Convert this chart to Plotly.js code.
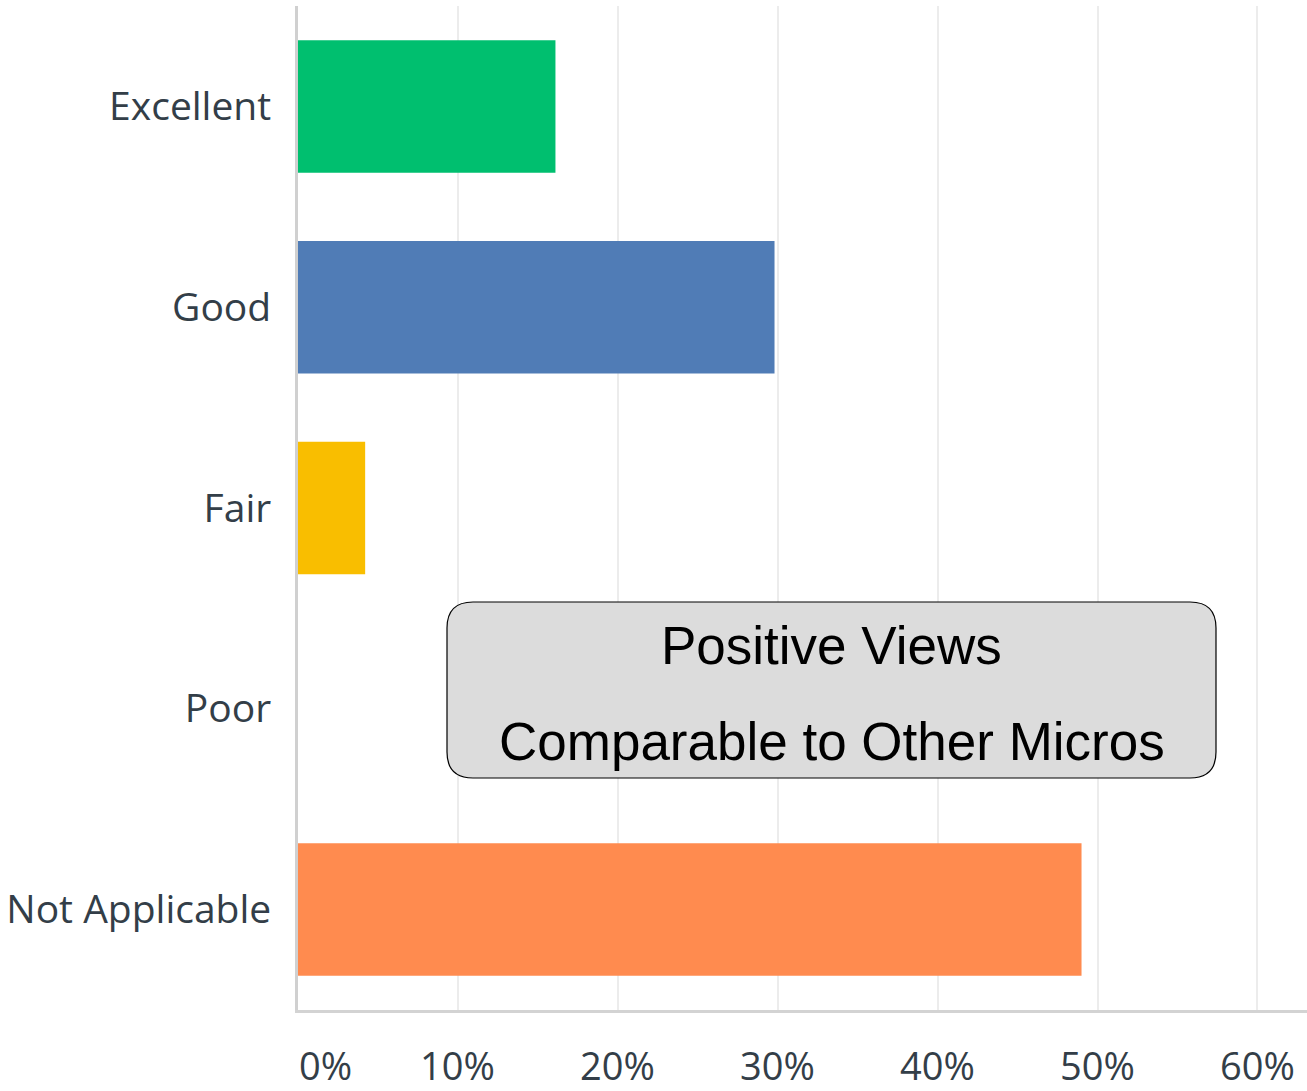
<!DOCTYPE html>
<html>
<head>
<meta charset="utf-8">
<script src="https://cdn.plot.ly/plotly-3.0.1.min.js"></script>
<style>html,body{margin:0;padding:0;background:#fff;}#chart{width:1307px;height:1091px;}</style>
</head>
<body>
<div id="chart"></div>
<script>
const categories = ['Excellent', 'Good', 'Fair', 'Poor', 'Not Applicable'];
const percentValues = [16.1, 29.8, 4.2, 0, 49.0];
const barColors = ['#00bf6f', '#507cb6', '#f9be00', '#d25f90', '#ff8b4f'];
const tickValues = [0, 10, 20, 30, 40, 50, 60];
const tickLabels = ['0%', '10%', '20%', '30%', '40%', '50%', '60%'];
const calloutLines = ['Positive Views', 'Comparable to Other Micros'];

const W = 1307, H = 1091;
const mL = 298, mR = 0, mT = 6, mB = 81;
const pw = W - mL - mR, ph = H - mT - mB;
const px = v => (v - mL) / pw;          // pixel x -> paper
const py = v => (H - mB - v) / ph;      // pixel y -> paper

const labelFont = {family: 'Open Sans, Noto Sans, sans-serif', size: 39, color: '#333e48'};
const xLabelFont = {family: 'Open Sans, Noto Sans, sans-serif', size: 38, color: '#333e48'};

const trace = {
  type: 'bar',
  orientation: 'h',
  y: categories,
  x: percentValues,
  marker: {color: barColors, line: {width: 0}},
  width: 0.66,
  hoverinfo: 'skip'
};

// callout box (rounded rectangle)
const bx0 = 447, bx1 = 1216, by0 = 602, by1 = 778, r = 26;
const pathPts = [
  ['M', bx0 + r, by0], ['L', bx1 - r, by0], ['Q', bx1, by0, bx1, by0 + r],
  ['L', bx1, by1 - r], ['Q', bx1, by1, bx1 - r, by1], ['L', bx0 + r, by1],
  ['Q', bx0, by1, bx0, by1 - r], ['L', bx0, by0 + r], ['Q', bx0, by0, bx0 + r, by0]
];
let path = '';
pathPts.forEach(p => {
  path += p[0];
  for (let i = 1; i < p.length; i += 2) {
    path += ' ' + px(p[i]).toFixed(5) + ',' + py(p[i + 1]).toFixed(5) + ' ';
  }
});
path += 'Z';

const annotations = [];
tickValues.forEach((v, i) => {
  annotations.push({
    x: v, xref: 'x', y: py(1065), yref: 'paper',
    text: tickLabels[i], showarrow: false,
    xanchor: i === 0 ? 'left' : 'center', yanchor: 'middle',
    font: xLabelFont, borderpad: 0
  });
});
const lineY = [645, 741];
calloutLines.forEach((t, i) => {
  annotations.push({
    x: px((bx0 + bx1) / 2), xref: 'paper', y: py(lineY[i]), yref: 'paper',
    text: t, showarrow: false, xanchor: 'center', yanchor: 'middle',
    font: {family: 'Liberation Sans, Arial, sans-serif', size: 53, color: '#000'}
  });
});

const layout = {
  width: W, height: H,
  margin: {l: mL, r: mR, t: mT, b: mB, pad: 0},
  paper_bgcolor: '#fff', plot_bgcolor: '#fff',
  showlegend: false,
  xaxis: {
    range: [0, 63.1],
    tickvals: tickValues,
    showticklabels: false,
    showgrid: true, gridcolor: '#ececec', gridwidth: 2,
    zeroline: false,
    showline: true, linecolor: '#d3d3d3', linewidth: 3,
    ticks: '', fixedrange: true
  },
  yaxis: {
    type: 'category',
    categoryorder: 'array', categoryarray: categories,
    range: [4.5, -0.5],
    showgrid: false, zeroline: false,
    showline: true, linecolor: '#d0d0d0', linewidth: 3,
    layer: 'above traces',
    ticks: '', ticklabelstandoff: 16,
    tickfont: labelFont, fixedrange: true
  },
  shapes: [{
    type: 'path', xref: 'paper', yref: 'paper', path: path,
    fillcolor: '#dcdcdc', line: {color: '#000', width: 1.2}, layer: 'above'
  }],
  annotations: annotations
};

Plotly.newPlot('chart', [trace], layout, {displayModeBar: false, staticPlot: true});
</script>
</body>
</html>
